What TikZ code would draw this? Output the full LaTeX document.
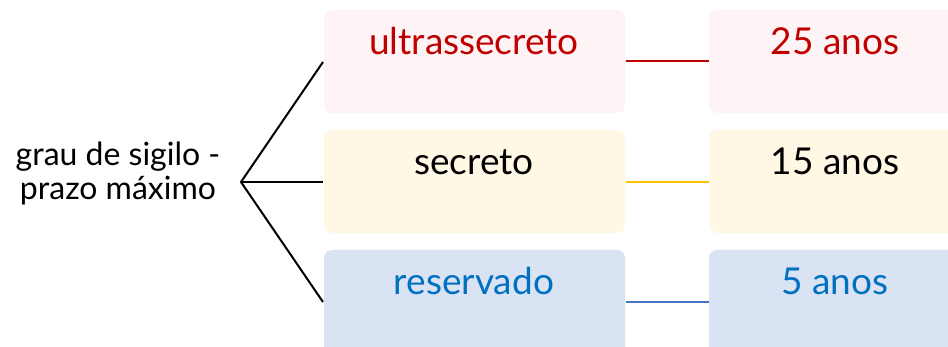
\documentclass[tikz,border=0pt]{standalone}
\usepackage{fontspec}
\setmainfont{Lato}
\definecolor{redfill}{HTML}{FFF4F5}
\definecolor{redtxt}{HTML}{C00000}
\definecolor{yelfill}{HTML}{FFF8E5}
\definecolor{yelline}{HTML}{FFC000}
\definecolor{bluefill}{HTML}{DAE3F3}
\definecolor{bluetxt}{HTML}{0070C0}
\definecolor{blueline}{HTML}{4472C4}
\begin{document}
\begin{tikzpicture}[x=1pt,y=-1pt,
  box/.style={rounded corners=8pt},
  lbl/.style={anchor=base,font=\fontsize{37}{44}\selectfont,inner sep=0pt},
  side/.style={anchor=base,font=\fontsize{32}{38}\selectfont,inner sep=0pt},
  fan/.style={line width=2pt,black},
  link/.style={line width=2pt}]
\useasboundingbox (0,0) rectangle (948,347);
\fill[white] (0,0) rectangle (948,347);
% boxes
\fill[box,redfill] (324,10) rectangle (625,113);
\fill[box,yelfill] (324,130) rectangle (625,233);
\fill[box,bluefill] (324,250) rectangle (625,360);
\fill[box,redfill] (709,10) rectangle (990,113);
\fill[box,yelfill] (709,130) rectangle (990,233);
\fill[box,bluefill] (709,250) rectangle (990,360);
% labels
\node[lbl,text=redtxt] (u) at (474,55) {ultrassecreto};
\node[lbl,text=black] (s) at (474,175) {secreto};
\node[lbl,text=bluetxt] (r) at (474,295) {reservado};
\node[lbl,text=redtxt] (a25) at (835,55) {25 anos};
\node[lbl,text=black] (a15) at (835,175) {15 anos};
\node[lbl,text=bluetxt] (a5) at (835,295) {5 anos};
\node[side] (g) at (118,166) {grau de sigilo -};
\node[side] (p) at (118,200) {prazo máximo};
% connectors
\coordinate (hub) at (241,182);
\coordinate (t1) at (323,62);
\coordinate (t2) at (323,182);
\coordinate (t3) at (323,302);
\draw[fan] (t1) -- (hub) -- (t3);
\draw[fan] (hub) -- (t2);
\coordinate (l1) at (626,61);
\coordinate (r1) at (709,61);
\coordinate (l2) at (626,182);
\coordinate (r2) at (709,182);
\coordinate (l3) at (626,302);
\coordinate (r3) at (709,302);
\draw[link,redtxt] (l1) -- (r1);
\draw[link,yelline] (l2) -- (r2);
\draw[link,blueline] (l3) -- (r3);
\end{tikzpicture}
\end{document}
